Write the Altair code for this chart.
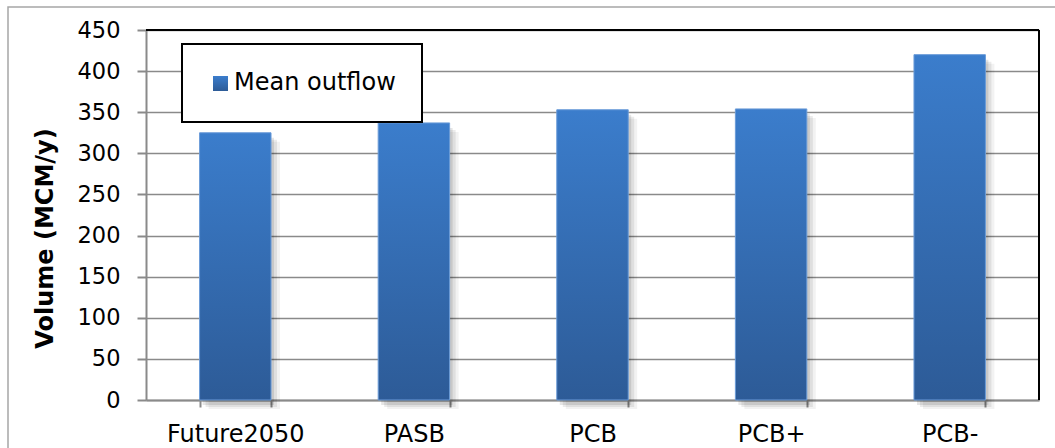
import altair as alt
import pandas as pd

# Scenario outflow volumes (MCM per year)
categories = ["Future2050", "PASB", "PCB", "PCB+", "PCB-"]
mean_outflow = [325, 337, 353, 354, 420]
y_ticks = [0, 50, 100, 150, 200, 250, 300, 350, 400, 450]
legend_labels = ["Mean outflow"]

FONT = "DejaVu Sans"
W, H = 893, 370

df = pd.DataFrame({"scenario": categories, "outflow": mean_outflow})

x_enc = alt.X(
    "scenario:N",
    sort=categories,
    scale=alt.Scale(paddingInner=0.6, paddingOuter=0.3),
    axis=alt.Axis(
        title=None, labelAngle=0, labelFont=FONT, labelFontSize=24, labelColor="#000000",
        labelPadding=15, tickBand="extent", tickSize=7, tickColor="#8a8a8a", tickWidth=2,
        domainColor="#8a8a8a", domainWidth=2, grid=False,
    ),
)
y_enc = alt.Y(
    "outflow:Q",
    scale=alt.Scale(domain=[0, 450], nice=False),
    axis=alt.Axis(
        title="Volume (MCM/y)", values=y_ticks, titleFont=FONT, titleFontSize=24,
        titleFontWeight="bold", titleColor="#000000", titleAngle=270, titleAlign="center",
        titleBaseline="middle", titleX=-101, titleY=208,
        labelFont=FONT, labelFontSize=22.5, labelColor="#000000", labelPadding=17,
        tickSize=9, tickColor="#8a8a8a", tickWidth=2, domainColor="#8a8a8a", domainWidth=2,
        grid=True, gridColor="#8a8a8a", gridWidth=1.5,
    ),
)

base = alt.Chart(df)

# soft drop shadow behind each bar
shadow1 = base.mark_bar(color="#000000", opacity=0.10, xOffset=3, yOffset=5).encode(x=x_enc, y=y_enc)
shadow2 = base.mark_bar(color="#000000", opacity=0.08, xOffset=6, yOffset=7).encode(x=x_enc, y=y_enc)
shadow3 = base.mark_bar(color="#000000", opacity=0.05, xOffset=9, yOffset=9).encode(x=x_enc, y=y_enc)

bar_fill = alt.Gradient(
    gradient="linear",
    stops=[alt.GradientStop(color="#3b7dcc", offset=0), alt.GradientStop(color="#2d5b97", offset=1)],
    x1=0, x2=0, y1=0, y2=1,
)
bars = base.mark_bar(color=bar_fill, stroke="#6a9bd8", strokeWidth=1).encode(x=x_enc, y=y_enc)

one = alt.Chart(pd.DataFrame({"label": legend_labels}))

# outer chart frame
frame = one.mark_rect(fill=None, stroke="#a6a6a6", strokeWidth=1.5).encode(
    x=alt.value(-138), x2=alt.value(W + 40), y=alt.value(-23), y2=alt.value(H + 60)
)
# black plot-area border on top and right
top_line = one.mark_rule(color="#000000", strokeWidth=2).encode(
    x=alt.value(0), x2=alt.value(W), y=alt.value(0)
)
right_line = one.mark_rule(color="#000000", strokeWidth=2).encode(
    x=alt.value(W), y=alt.value(0), y2=alt.value(H)
)

# legend box
legend_box = one.mark_rect(fill="#ffffff", stroke="#000000", strokeWidth=2).encode(
    x=alt.value(36), x2=alt.value(276), y=alt.value(14), y2=alt.value(92)
)
legend_swatch = one.mark_rect(color=bar_fill).encode(
    x=alt.value(67), x2=alt.value(82), y=alt.value(46), y2=alt.value(61)
)
legend_text = one.mark_text(
    font=FONT, fontSize=24, color="#000000", align="left", baseline="alphabetic"
).encode(x=alt.value(88), y=alt.value(60), text="label:N")

chart = (
    alt.layer(frame, shadow3, shadow2, shadow1, bars, top_line, right_line,
              legend_box, legend_swatch, legend_text)
    .properties(
        width=W, height=H,
        autosize=alt.AutoSizeParams(type="none"),
        padding={"left": 146, "top": 30, "right": 16, "bottom": 48},
        background="#ffffff",
    )
    .configure_view(strokeWidth=0)
)

chart.save("out.html", embed_options={"renderer": "svg", "actions": False})
